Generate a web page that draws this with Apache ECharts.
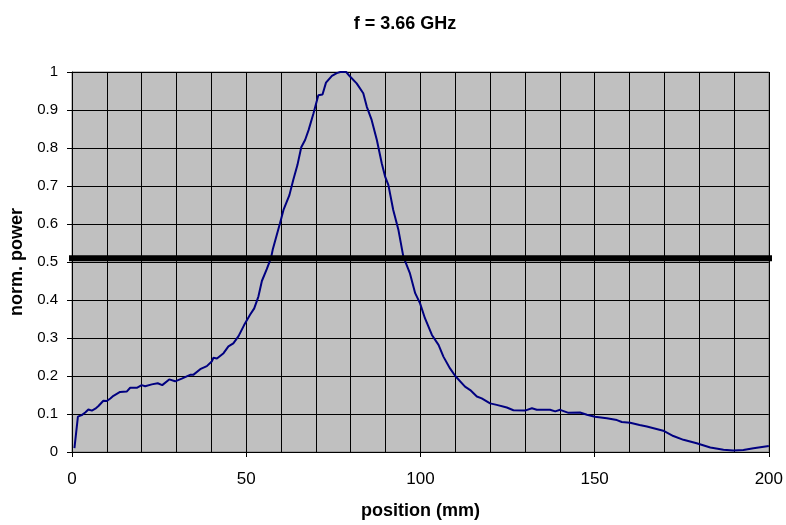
<!DOCTYPE html>
<html>
<head>
<meta charset="utf-8">
<script src="https://cdn.jsdelivr.net/npm/echarts@6/dist/echarts.min.js"></script>
<style>
  html, body { margin: 0; padding: 0; background: #fff; }
  #myChart { width: 786px; height: 525px; }
</style>
</head>
<body>
<div id="myChart"></div>
<script>
// measured curve, position in mm and normalised power
var positions = [0.7, 1.7, 2.8, 3.8, 4.7, 5.7, 6.7, 7.6, 9, 10, 11, 11.9, 13.8, 15.7, 16.7, 18.6, 20, 21, 22.9, 24.6,
  25.9, 27.9, 29.6, 31.5, 33.9, 34.8, 36.8, 38.7, 40.1, 40.6, 41.6, 43.5, 44.9, 46.3, 47.8, 49.4, 51.1, 52.3, 53.5, 54.5,
  55.9, 57.1, 57.6, 59.7, 60.7, 62.4, 63.5, 64.7, 65.8, 66.9, 67.9, 69.3, 70.7, 71.9, 72.9, 74.6, 76, 77, 78.7, 79.8,
  81.7, 83.6, 84.6, 86, 87.5, 88.9, 89.9, 90.8, 92.2, 93.7, 95.1, 97, 98.5, 99.9, 101.3, 103.3, 105.2, 106.6, 108.5, 110,
  112.8, 114.3, 116.2, 117.6, 120, 121.9, 124.8, 126.7, 130, 132, 133.4, 137.2, 138.7, 140.1, 142.5, 145.8, 147.8, 150.1,
  153.5, 156.4, 157.8, 160.2, 162.9, 165, 169.7, 172.6, 175.5, 179.3, 183.2, 187, 189.8, 192.7, 195.6, 200];
var power = [0.01, 0.093, 0.097, 0.104, 0.112, 0.109, 0.114, 0.121, 0.135, 0.134, 0.141, 0.148, 0.158, 0.159, 0.169, 0.169, 0.176, 0.173, 0.178, 0.181,
  0.176, 0.191, 0.186, 0.193, 0.203, 0.203, 0.218, 0.226, 0.238, 0.248, 0.246, 0.26, 0.278, 0.286, 0.305, 0.334, 0.361, 0.378, 0.409, 0.45,
  0.481, 0.51, 0.532, 0.602, 0.637, 0.676, 0.716, 0.755, 0.802, 0.821, 0.847, 0.891, 0.939, 0.941, 0.972, 0.99, 0.997, 1.0, 1.0, 0.988,
  0.97, 0.944, 0.909, 0.874, 0.821, 0.76, 0.724, 0.703, 0.637, 0.584, 0.514, 0.47, 0.418, 0.391, 0.352, 0.308, 0.282, 0.251, 0.22, 0.2,
  0.172, 0.163, 0.146, 0.141, 0.128, 0.124, 0.117, 0.11, 0.109, 0.115, 0.111, 0.111, 0.107, 0.111, 0.103, 0.104, 0.098, 0.093,
  0.089, 0.084, 0.079, 0.077, 0.071, 0.067, 0.056, 0.042, 0.032, 0.023, 0.012, 0.006, 0.004, 0.005, 0.01, 0.016];

// the thick half-power line, drawn a bit past both plot edges
var halfPowerLevel = 0.51;
var halfPowerSpan = [-3.9, 202.6];

var curve = positions.map(function (x, i) { return [x, power[i]]; });
var halfLine = halfPowerSpan.map(function (x) { return [x, halfPowerLevel]; });

var font = 'Liberation Sans, Arial, sans-serif';

var option = {
  animation: false,
  title: {
    text: 'f = 3.66 GHz',
    left: 400, top: 10, textAlign: 'center',
    textStyle: { fontFamily: font, fontSize: 18, fontWeight: 'bold', color: '#000' }
  },
  grid: {
    left: 72, right: 17, top: 72, bottom: 73,
    show: true, backgroundColor: '#C0C0C0', borderColor: '#808080', borderWidth: 1
  },
  xAxis: {
    type: 'value', min: 0, max: 200, interval: 50,
    name: 'position (mm)', nameLocation: 'middle', nameGap: 50,
    nameTextStyle: { fontFamily: font, fontSize: 18, fontWeight: 'bold', color: '#000' },
    axisLine: { show: true, lineStyle: { color: '#000', width: 1 } },
    axisTick: { show: true, length: 5, lineStyle: { color: '#000' } },
    axisLabel: { fontFamily: font, fontSize: 17, color: '#000', margin: 19 },
    splitLine: { show: true, lineStyle: { color: '#000', width: 1 } },
    minorTick: { show: false, splitNumber: 5 },
    minorSplitLine: { show: true, lineStyle: { color: '#000', width: 1 } }
  },
  yAxis: {
    type: 'value', min: 0, max: 1, interval: 0.1,
    name: 'norm. power', nameLocation: 'middle', nameGap: 46, nameRotate: 90,
    nameTextStyle: { fontFamily: font, fontSize: 18, fontWeight: 'bold', color: '#000' },
    axisLine: { show: true, lineStyle: { color: '#000', width: 1 } },
    axisTick: { show: true, length: 5, lineStyle: { color: '#000' } },
    axisLabel: { fontFamily: font, fontSize: 15, color: '#000', margin: 14 },
    splitLine: { show: true, lineStyle: { color: '#000', width: 1 } }
  },
  series: [
    {
      type: 'line', data: curve, showSymbol: false,
      lineStyle: { color: '#000080', width: 2 }
    },
    {
      type: 'line', data: halfLine, showSymbol: false, clip: false, z: 5,
      lineStyle: { color: '#000', width: 6 }
    }
  ]
};

var myChart = echarts.init(document.getElementById('myChart'));
myChart.setOption(option);
</script>
</body>
</html>
